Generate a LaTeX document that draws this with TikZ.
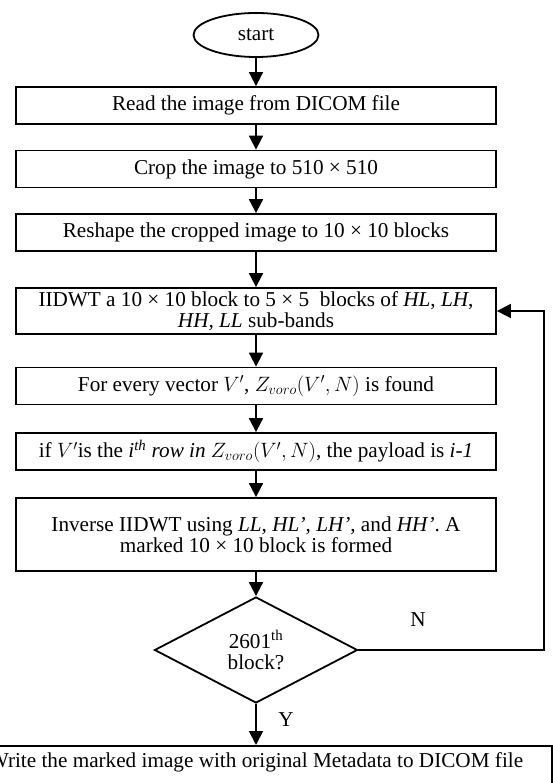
\documentclass[tikz,border=0pt]{standalone}
\usepackage{fontspec}
\setmainfont{Liberation Serif}
\usetikzlibrary{arrows.meta,shapes.geometric}

\tikzset{
  procbox/.style={draw, line width=1.8pt, minimum width=480pt, minimum height=37pt,
                  align=center, inner sep=2pt},
  decision/.style={draw, diamond, line width=1.8pt, aspect=2, minimum width=203pt,
                   minimum height=106pt, align=center, inner sep=2pt},
  arrow/.style={-{Triangle[length=14pt, width=14pt]}, line width=1.8pt},
}

\begin{document}
\begin{tikzpicture}[x=1pt, y=-1pt,
  every node/.style={font=\fontsize{21.2}{21.5}\selectfont},
]
\clip (0,0) rectangle (553,783);
\useasboundingbox (0,0) rectangle (553,783);

% === Start ===
\node[draw, ellipse, line width=1.8pt, minimum width=125pt, minimum height=44pt]
      (start) at (256,35) {start};

% === Steps ===
\node[procbox] (read) at (256,105.5) {Read the image from DICOM file};
\node[procbox] (crop) at (256,169) {Crop the image to 510 × 510};
\node[procbox] (reshape) at (256,232.5) {Reshape the cropped image to 10 × 10 blocks};
\node[procbox, minimum height=46pt]
      (iidwt) at (256,311) {IIDWT a 10 × 10 block to 5 × 5\ \ blocks of \textit{HL}, \textit{LH},\\
      \textit{HH, LL} sub-bands};
\node[procbox] (voro) at (256,386) {For every vector $V'$, $Z_{voro}(V',N)$ is found};
\node[procbox] (payload) at (256,451.5)
      {if $V'$is the \textit{i\textsuperscript{th} row in} $Z_{voro}(V',N)$, the payload is \textit{i-1}};
\node[procbox, minimum height=73pt]
      (inverse) at (256,534.5) {Inverse IIDWT using \textit{LL}, \textit{HL’}, \textit{LH’}, and \textit{HH’}. A\\
      marked 10 × 10 block is formed};

% === Decision ===
\node[decision] (dec) at (256,650) {2601\textsuperscript{th}\\block?};

% === Output (runs off the page) ===
\node[procbox, minimum width=592pt, anchor=north, text height=15pt, text depth=40pt, inner ysep=7pt]
      (write) at (256,745) {Write the marked image with original Metadata to DICOM file};

% === Arrows ===
\draw[arrow] (start) -- (read);
\draw[arrow] (read) -- (crop);
\draw[arrow] (crop) -- (reshape);
\draw[arrow] (reshape) -- (iidwt);
\draw[arrow] (iidwt) -- (voro);
\draw[arrow] (voro) -- (payload);
\draw[arrow] (payload) -- (inverse);
\draw[arrow] (inverse) -- (dec);
\draw[arrow] (dec) -- (write);

% loop back
\coordinate (back) at (544,650);
\draw[arrow] (dec.east) -- (back) |- (iidwt.east);

% Labels on arrows
\node (n) at (418,620) {N};
\node (y) at (286,720) {Y};

\end{tikzpicture}
\end{document}
